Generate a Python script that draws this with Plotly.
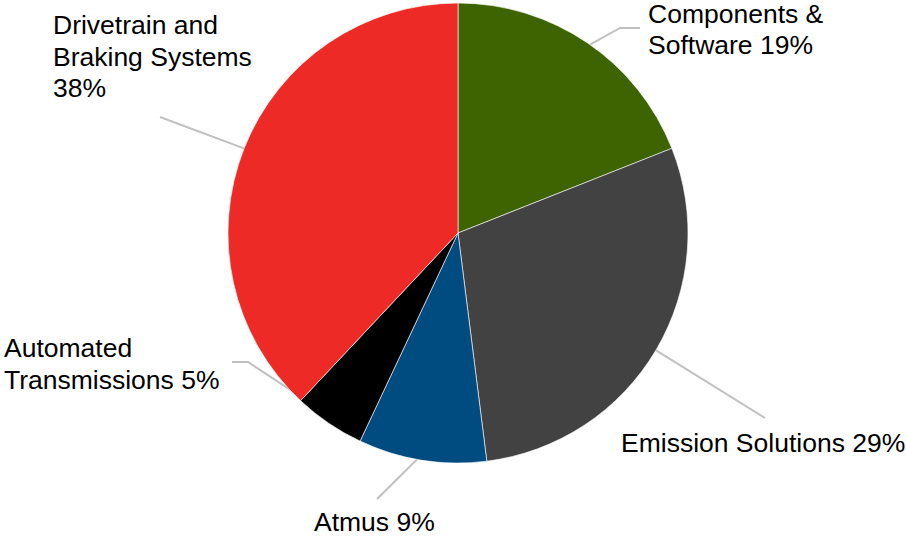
import math
import plotly.graph_objects as go

# segment share, clockwise from 12 o'clock
labels = ["Components &<br>Software", "Emission Solutions", "Atmus",
          "Automated<br>Transmissions", "Drivetrain and<br>Braking Systems"]
values = [19, 29, 9, 5, 38]
colors = ["#3D6401", "#424242", "#004B80", "#000000", "#EE2A27"]

W, H = 906, 539
CX, CY, R = 458, 233, 230   # pie centre / radius in px
FONT = dict(family="Liberation Sans, Arial, sans-serif", size=26.5, color="#000000")
LINE_COLOR = "#C0C0C0"
LINE_GAP = 31.5
PAD = 3  # annotation inner padding

# label placement (px): left x, first line centre y, leader bends
label_pos = [
    dict(x=649, y=14, elbow=[(620, 28), (640, 28)]),
    dict(x=622, y=443, elbow=[(765, 418)]),
    dict(x=315, y=522, elbow=[(377, 499)]),
    dict(x=5, y=348, elbow=[(248, 362), (232, 362)]),
    dict(x=54, y=25, elbow=[(160, 117)]),
]


def px(x, y):
    return x / W, 1 - y / H


fig = go.Figure()
fig.add_trace(go.Pie(
    labels=labels,
    values=values,
    sort=False,
    direction="clockwise",
    rotation=0,
    marker=dict(colors=colors, line=dict(color="rgba(255,255,255,0.6)", width=1)),
    textinfo="none",
    hoverinfo="label+percent",
    domain=dict(x=[(CX - R) / W, (CX + R) / W], y=[(H - CY - R) / H, (H - CY + R) / H]),
))

shapes = []
annotations = []
total = sum(values)
cum = 0
for lab, v, pos in zip(labels, values, label_pos):
    mid = (cum + v / 2) / total * 2 * math.pi
    cum += v
    sx = CX + 0.97 * R * math.sin(mid)
    sy = CY - 0.97 * R * math.cos(mid)
    pts = [(sx, sy)] + pos["elbow"]
    path = "M " + " L ".join(f"{px(a, b)[0]},{px(a, b)[1]}" for a, b in pts)
    shapes.append(dict(type="path", path=path, xref="paper", yref="paper",
                       line=dict(color=LINE_COLOR, width=2), layer="below"))
    if lab.startswith("Drive"):
        lines = lab.split("<br>") + [f"{v}%"]
    else:
        lines = lab.split("<br>")
        lines[-1] += f" {v}%"
    for i, ln in enumerate(lines):
        ax, ay = px(pos["x"] - PAD, pos["y"] + i * LINE_GAP)
        annotations.append(dict(text=ln, x=ax, y=ay, xref="paper", yref="paper",
                                xanchor="left", yanchor="middle", align="left",
                                showarrow=False, font=FONT))

fig.update_layout(
    width=W, height=H,
    margin=dict(l=0, r=0, t=0, b=0),
    paper_bgcolor="#FFFFFF",
    plot_bgcolor="#FFFFFF",
    showlegend=False,
    shapes=shapes,
    annotations=annotations,
)
fig.write_html("out.html", config={"displayModeBar": False},
               post_script="document.body.style.margin='0';")
